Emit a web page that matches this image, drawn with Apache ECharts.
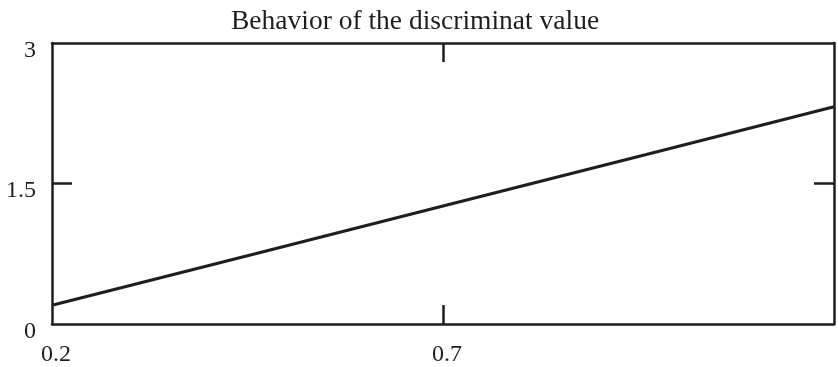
<!DOCTYPE html>
<html>
<head>
<meta charset="utf-8">
<script src="https://cdn.jsdelivr.net/npm/echarts@6/dist/echarts.min.js"></script>
<style>
  html, body { margin: 0; padding: 0; background: #ffffff; }
  #chart { width: 838px; height: 367px; }
</style>
</head>
<body>
<div id="chart"></div>
<script>
// Discriminant value sampled along the parameter range
const xValues = [0.2, 0.46, 0.7, 0.96, 1.2];
const discriminant = [0.2, 0.75, 1.26, 1.81, 2.32];

// Axis ranges and tick labels
const xRange = [0.2, 1.2];
const yRange = [0, 3];
const xTickLabels = [0.2, 0.7];
const xInnerTicks = [0.7];
const yTickLabels = [0, 1.5, 3];
const yInnerTicks = [1.5];

const ink = '#1e1e1e';
const serif = '"Liberation Serif", "DejaVu Serif", serif';

const chart = echarts.init(document.getElementById('chart'), null, { renderer: 'canvas' });

const frameLine = { show: true, onZero: false, lineStyle: { color: ink, width: 2.5 } };
const innerTick = (vals, len) => ({
  show: true, inside: true, length: len, customValues: vals,
  lineStyle: { color: ink, width: 2.5 }
});

chart.setOption({
  backgroundColor: '#ffffff',
  animation: false,
  title: {
    text: 'Behavior of the discriminat value',
    left: 226,
    top: 3,
    textStyle: { fontFamily: serif, fontSize: 27.5, fontWeight: 'normal', color: ink }
  },
  grid: { left: 52, right: 4, top: 43, bottom: 39, containLabel: false },
  xAxis: [
    {
      type: 'value', position: 'bottom', min: xRange[0], max: xRange[1],
      axisLine: frameLine,
      axisTick: innerTick(xInnerTicks, 19),
      splitLine: { show: false },
      axisLabel: {
        customValues: xTickLabels, margin: 19, color: ink,
        fontFamily: serif, fontSize: 24, padding: [0, 0, 0, 8]
      }
    },
    {
      type: 'value', position: 'top', min: xRange[0], max: xRange[1],
      axisLine: frameLine,
      axisTick: innerTick(xInnerTicks, 19),
      splitLine: { show: false },
      axisLabel: { show: false }
    }
  ],
  yAxis: [
    {
      type: 'value', position: 'left', min: yRange[0], max: yRange[1],
      axisLine: frameLine,
      axisTick: innerTick(yInnerTicks, 20),
      splitLine: { show: false },
      axisLabel: {
        customValues: yTickLabels, margin: 16, color: ink,
        fontFamily: serif, fontSize: 24, verticalAlign: 'top', lineHeight: 15
      }
    },
    {
      type: 'value', position: 'right', min: yRange[0], max: yRange[1],
      axisLine: frameLine,
      axisTick: innerTick(yInnerTicks, 20),
      splitLine: { show: false },
      axisLabel: { show: false }
    }
  ],
  series: [{
    type: 'line',
    data: xValues.map((x, i) => [x, discriminant[i]]),
    showSymbol: false,
    smooth: false,
    lineStyle: { color: ink, width: 3.2 },
    silent: true
  }]
});
</script>
</body>
</html>
